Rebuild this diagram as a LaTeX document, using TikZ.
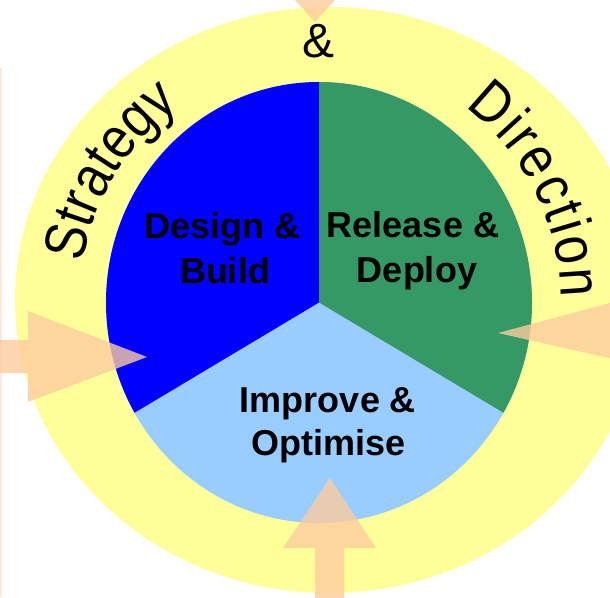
\documentclass[tikz,border=0pt]{standalone}
\usepackage{fontspec}
\setmainfont{Liberation Sans}
\newfontfamily\ringfam[FakeStretch=0.86]{Liberation Sans}
\usetikzlibrary{decorations.text}
\definecolor{ringyellow}{RGB}{255,255,153}
\definecolor{secblue}{RGB}{0,0,255}
\definecolor{secgreen}{RGB}{53,153,102}
\definecolor{seclight}{RGB}{153,204,255}
\definecolor{arrowpeach}{RGB}{252,204,158}
\definecolor{edgepeach}{RGB}{253,233,217}
\newcommand\ringfont{\ringfam\fontsize{59}{64}\selectfont}
\newcommand\ampfont{\fontsize{48}{58}\selectfont}
\newcommand\secfont{\fontsize{36}{45}\selectfont\bfseries}
\begin{document}
\begin{tikzpicture}[x=1pt,y=1pt,
  secline/.style={font=\secfont, anchor=base, inner sep=0pt},
  blockarrow/.style={fill=arrowpeach, fill opacity=0.8, draw=none},
  ringtext/.style={decorate, decoration={text along path, text align=fit to path, text={|\ringfont|#1}}}]
\useasboundingbox (0,0) rectangle (610,-597);
\clip (0,0) rectangle (610,-597);
\fill[white] (0,0) rectangle (610,-597);
\fill[edgepeach] (0,-68) rectangle (2,-597);
% outer ring
\fill[ringyellow] (329,-300) ellipse [x radius=314, y radius=293];
% inner pie
\fill[seclight] (319,-302.5) ellipse [x radius=213, y radius=220.5];
\fill[secblue] (319,-302.5) -- (319,-82) arc[start angle=90, end angle=210, x radius=213, y radius=220.5] -- cycle;
\fill[secgreen] (319,-302.5) -- (319,-82) arc[start angle=90, end angle=-30, x radius=213, y radius=220.5] -- cycle;
% block arrows
\fill[blockarrow] (-5,-340) -- (28,-340) -- (28,-311) -- (147,-357) -- (28,-402) -- (28,-373) -- (-5,-373) -- cycle;
\fill[blockarrow] (498,-333) -- (640,-295) -- (640,-365) -- cycle;
\fill[blockarrow] (315,-22) -- (344,10) -- (286,10) -- cycle;
\fill[blockarrow] (330,-478) -- (376,-548) -- (344,-548) -- (344,-610) -- (315,-610) -- (315,-548) -- (283,-548) -- cycle;
% sector labels
\node[secline] (design1) at (222.5,-238) {Design \&};
\node[secline] (design2) at (225,-283) {Build};
\node[secline] (release1) at (413,-237) {Release \&};
\node[secline] (release2) at (417,-282) {Deploy};
\node[secline] (improve1) at (328,-412) {Improve \&};
\node[secline] (improve2) at (328.5,-455) {Optimise};
% ring text
\path[shift={(320,-300)}, ringtext=Strategy] (171:240) arc[start angle=171, end angle=126, radius=240];
\node[font=\ampfont, anchor=base, inner sep=0pt] (amp) at (318.7,-57) {\&};
\path[shift={(320,-300)}, ringtext=Direction] (53:241) arc[start angle=53, end angle=0.5, radius=241];
\end{tikzpicture}
\end{document}
